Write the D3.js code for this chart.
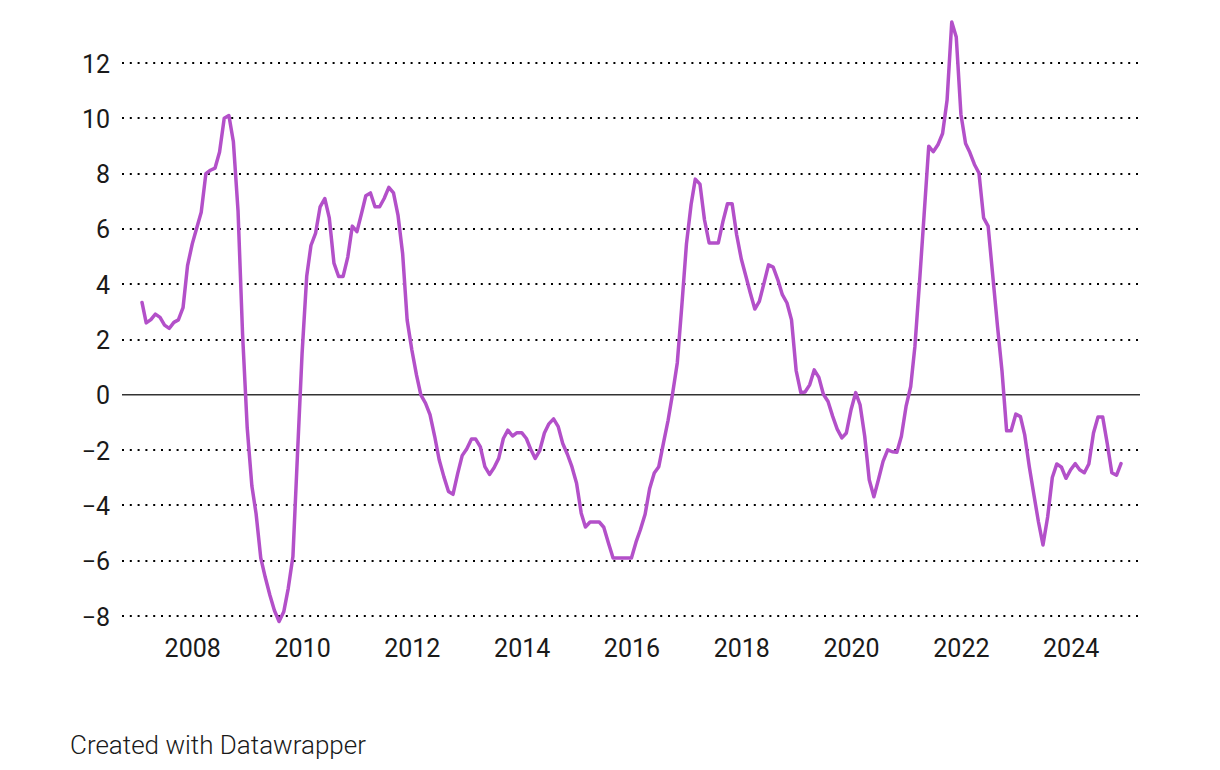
<!DOCTYPE html>
<html>
<head>
<meta charset="utf-8">
<script src="https://cdn.jsdelivr.net/npm/d3@7"></script>
<style>
  html, body { margin: 0; padding: 0; background: #fff; }
  svg { display: block; font-family: Roboto, "Noto Sans", sans-serif; }
</style>
</head>
<body>
<svg id="chart" width="1220" height="770"></svg>
<script>
// Monthly values, Feb 2007 .. Dec 2024
const startMonth = "2007-02";
const values = [
  // 2007 (Feb-Dec)
  3.34, 2.6, 2.72, 2.92, 2.8, 2.52, 2.4, 2.62, 2.71, 3.15, 4.67,
  // 2008
  5.45, 6.05, 6.6, 8.0, 8.12, 8.2, 8.78, 10.0, 10.1, 9.15, 6.64, 2.2,
  // 2009
  -1.2, -3.3, -4.3, -5.9, -6.6, -7.25, -7.8, -8.2, -7.85, -7.0, -5.85, -2.2,
  // 2010
  1.5, 4.3, 5.4, 5.85, 6.8, 7.1, 6.4, 4.76, 4.28, 4.28, 4.98, 6.1,
  // 2011
  5.9, 6.57, 7.2, 7.3, 6.8, 6.8, 7.1, 7.5, 7.3, 6.5, 5.1, 2.7,
  // 2012
  1.63, 0.72, 0.0, -0.3, -0.72, -1.5, -2.35, -2.96, -3.5, -3.6, -2.85, -2.2,
  // 2013
  -1.95, -1.6, -1.6, -1.88, -2.6, -2.88, -2.64, -2.3, -1.58, -1.28, -1.49, -1.37,
  // 2014
  -1.37, -1.58, -1.96, -2.3, -2.02, -1.38, -1.05, -0.87, -1.15, -1.76, -2.15, -2.6,
  // 2015
  -3.2, -4.28, -4.78, -4.6, -4.6, -4.6, -4.79, -5.36, -5.9, -5.9, -5.9, -5.9,
  // 2016
  -5.9, -5.32, -4.87, -4.32, -3.4, -2.83, -2.6, -1.75, -0.92, 0.05, 1.15, 3.2,
  // 2017
  5.45, 6.88, 7.8, 7.62, 6.33, 5.49, 5.49, 5.49, 6.27, 6.91, 6.91, 5.79,
  // 2018
  4.91, 4.28, 3.7, 3.1, 3.38, 4.04, 4.7, 4.62, 4.16, 3.62, 3.32, 2.71,
  // 2019
  0.87, 0.08, 0.1, 0.36, 0.9, 0.63, 0.02, -0.24, -0.78, -1.24, -1.56, -1.38,
  // 2020
  -0.54, 0.08, -0.36, -1.5, -3.07, -3.69, -3.07, -2.41, -1.99, -2.06, -2.08, -1.5,
  // 2021
  -0.42, 0.3, 1.75, 4.1, 6.5, 8.99, 8.79, 9.04, 9.45, 10.66, 13.48, 12.94,
  // 2022
  10.15, 9.09, 8.77, 8.33, 8.02, 6.4, 6.1, 4.3, 2.5, 0.88, -1.3, -1.3,
  // 2023
  -0.7, -0.79, -1.44, -2.6, -3.6, -4.6, -5.43, -4.42, -2.99, -2.5, -2.62, -3.02,
  // 2024
  -2.71, -2.49, -2.71, -2.82, -2.5, -1.38, -0.8, -0.8, -1.78, -2.82, -2.91, -2.49
];
const yTicks = [-8, -6, -4, -2, 0, 2, 4, 6, 8, 10, 12];
const xTickYears = [2008, 2010, 2012, 2014, 2016, 2018, 2020, 2022, 2024];
const creditText = "Created with Datawrapper";

const parseMonth = d3.timeParse("%Y-%m");
const start = parseMonth(startMonth);
const data = values.map((v, i) => ({ date: d3.timeMonth.offset(start, i), value: v }));

const svg = d3.select("#chart");

const x = d3.scaleTime()
  .domain([data[0].date, data[data.length - 1].date])
  .range([142, 1121]);
const y = d3.scaleLinear().domain([-8, 12]).range([616, 63]);

const gridLeft = 122, gridRight = 1140;

// Gridlines
svg.append("g").selectAll("line")
  .data(yTicks.filter(t => t !== 0))
  .join("line")
  .attr("x1", gridLeft).attr("x2", gridRight)
  .attr("y1", d => Math.round(y(d))).attr("y2", d => Math.round(y(d)))
  .attr("stroke", "#000")
  .attr("stroke-width", 2)
  .attr("stroke-dasharray", "2 5.8");

// Zero line
svg.append("line")
  .attr("x1", gridLeft).attr("x2", gridRight)
  .attr("y1", y(0)).attr("y2", y(0))
  .attr("stroke", "#333")
  .attr("stroke-width", 1.6);

// Y axis labels
const yAxis = d3.axisLeft(y).tickValues(yTicks).tickSize(0).tickPadding(0)
  .tickFormat(d => d < 0 ? "\u2212" + Math.abs(d) : String(d));
const gy = svg.append("g").attr("transform", "translate(110,0)").call(yAxis);
gy.select(".domain").remove();
gy.selectAll("text")
  .attr("font-family", "Roboto, sans-serif")
  .attr("font-size", 25)
  .attr("fill", "#1a1a1a")
  .attr("dy", "0.36em");

// X axis labels
const xAxis = d3.axisBottom(x)
  .tickValues(xTickYears.map(yr => new Date(yr, 0, 1)))
  .tickSize(0).tickPadding(0)
  .tickFormat(d3.timeFormat("%Y"));
const gx = svg.append("g").attr("transform", "translate(0,640)").call(xAxis);
gx.select(".domain").remove();
gx.selectAll("text")
  .attr("font-family", "Roboto, sans-serif")
  .attr("font-size", 25)
  .attr("fill", "#1a1a1a")
  .attr("dy", "0.68em");

// Line
const line = d3.line()
  .x(d => x(d.date))
  .y(d => y(d.value));
svg.append("path")
  .datum(data)
  .attr("fill", "none")
  .attr("stroke", "#b350c9")
  .attr("stroke-width", 3.5)
  .attr("stroke-linejoin", "round")
  .attr("stroke-linecap", "round")
  .attr("d", line);

// Credit
svg.append("text")
  .attr("x", 70).attr("y", 754)
  .attr("font-family", "Roboto, sans-serif")
  .attr("font-weight", 300)
  .attr("font-size", 26)
  .attr("fill", "#1a1a1a")
  .text(creditText);
</script>
</body>
</html>
